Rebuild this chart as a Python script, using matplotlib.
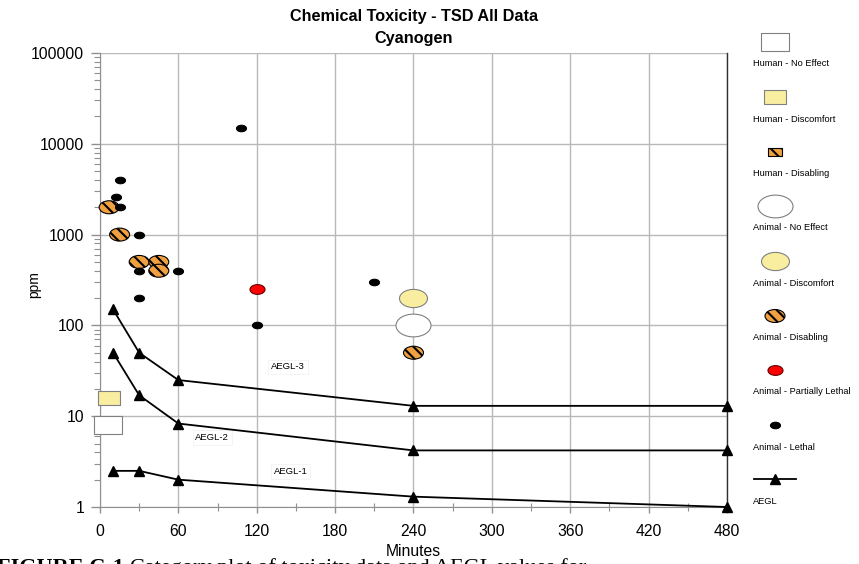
import matplotlib
matplotlib.use('Agg')
import matplotlib.pyplot as plt
from matplotlib.path import Path
from matplotlib.markers import MarkerStyle
from matplotlib.transforms import Affine2D
from matplotlib.ticker import NullFormatter, LogLocator

plt.rcParams['font.family'] = ['Liberation Sans', 'DejaVu Sans']
plt.rcParams['hatch.linewidth'] = 1.5

# ---- data (minutes, ppm) ----
aegl_t = [10, 30, 60, 240, 480]
aegl1 = [2.5, 2.5, 2.0, 1.3, 1.0]
aegl2 = [50, 17, 8.3, 4.2, 4.2]
aegl3 = [150, 50, 25, 13, 13]

hum_noeff_t, hum_noeff_c = [6], [8]
hum_disc_t, hum_disc_c = [7], [16]
ani_noeff_t, ani_noeff_c = [240], [100]
ani_disc_t, ani_disc_c = [240], [200]
ani_dis_t = [7, 15, 30, 45, 45, 240]
ani_dis_c = [2000, 1000, 500, 500, 400, 50]
ani_plet_t, ani_plet_c = [120], [250]
ani_leth_t = [108, 15, 12, 15, 30, 30, 60, 30, 210, 120]
ani_leth_c = [15000, 4000, 2600, 2000, 1000, 400, 400, 200, 300, 100]

x_ticks = [0, 60, 120, 180, 240, 300, 360, 420, 480]
y_ticks = [1, 10, 100, 1000, 10000, 100000]
y_labels = ['1', '10', '100', '1000', '10000', '100000']

legend_labels = ['Human - No Effect', 'Human - Discomfort', 'Human - Disabling',
                 'Animal - No Effect', 'Animal - Discomfort', 'Animal - Disabling',
                 'Animal - Partially Lethal', 'Animal - Lethal', 'AEGL']

# ---- marker shapes ----
ell = MarkerStyle(Path.unit_circle().transformed(Affine2D().scale(1, 0.65)))
def rect(ratio):
    return MarkerStyle(Path.unit_rectangle().transformed(
        Affine2D().translate(-0.5, -0.5).scale(1, ratio)))

ORANGE = '#f0a040'
YELLOW = '#f9eea0'
GREY = '#808080'
STRIPES = '\\\\\\'

# style per legend entry: (marker, size, face, edge, hatch)
styles = [
    (rect(0.667), 378, 'white', GREY, None),
    (rect(0.6), 260, YELLOW, GREY, None),
    (rect(0.6), 100, ORANGE, 'k', STRIPES),
    (ell, 635, 'white', GREY, None),
    (ell, 406, YELLOW, GREY, None),
    (ell, 207, ORANGE, 'k', STRIPES),
    (ell, 117, 'red', '#600000', None),
    (ell, 52, 'black', 'black', None),
]

fig = plt.figure(figsize=(8.59, 5.64), dpi=100)
ax = fig.add_axes([100/859, 1-507/564, 627/859, 454/564])
ax.set_yscale('log')
ax.set_xlim(0, 480)
ax.set_ylim(1, 100000)

ax.set_xticks(x_ticks)
ax.set_xticks(range(30, 480, 60), minor=True)
ax.set_yticks(y_ticks)
ax.set_yticklabels(y_labels)
ax.yaxis.set_minor_locator(LogLocator(base=10, subs=range(2, 10)))
ax.yaxis.set_minor_formatter(NullFormatter())
ax.grid(True, which='major', color='#b8b8b8', lw=1.0)
ax.tick_params(axis='both', which='major', labelsize=11.3, color='#909090')
ax.tick_params(axis='y', which='major', length=6.5, width=1, pad=5)
ax.tick_params(axis='y', which='minor', length=4, width=0.8, color='#909090')
ax.tick_params(axis='x', which='major', length=4.5, width=1, pad=8)
ax.tick_params(axis='x', which='minor', direction='inout', length=6, width=0.8, color='#909090')
ax.spines['top'].set_visible(False)
ax.spines['left'].set_color('#909090')
ax.spines['bottom'].set_color('#909090')
ax.spines['right'].set_color('#303030')
ax.spines['right'].set_linewidth(1.0)

ax.set_xlabel('Minutes', fontsize=11.3, labelpad=3)
ax.set_ylabel('ppm', fontsize=10)
ax.yaxis.set_label_coords(-0.094, 0.49)
fig.text(414/859, 1-17/564, 'Chemical Toxicity - TSD All Data', ha='center', va='center',
         fontsize=11.7, fontweight='bold')
fig.text(414/859, 1-39/564, 'Cyanogen', ha='center', va='center',
         fontsize=11.7, fontweight='bold')

# AEGL lines
for vals in [aegl1, aegl2, aegl3]:
    ax.plot(aegl_t, vals, color='k', lw=1.3, marker='^', ms=6.5, clip_on=False, zorder=4)
aegl_box = dict(facecolor='white', edgecolor='#f0f0f0', pad=2, lw=0.5)
ax.text(144, 35, 'AEGL-3', fontsize=6.8, ha='center', va='center', bbox=aegl_box, zorder=3)
ax.text(86, 5.8, 'AEGL-2', fontsize=6.8, ha='center', va='center', bbox=aegl_box, zorder=3)
ax.text(146, 2.45, 'AEGL-1', fontsize=6.8, ha='center', va='center', bbox=aegl_box, zorder=3)

series = [(hum_noeff_t, hum_noeff_c), (hum_disc_t, hum_disc_c), ([], []),
          (ani_noeff_t, ani_noeff_c), (ani_disc_t, ani_disc_c), (ani_dis_t, ani_dis_c),
          (ani_plet_t, ani_plet_c), (ani_leth_t, ani_leth_c)]
for (t, c), (m, sz, fc, ec, h) in zip(series, styles):
    if not t:
        continue
    ax.scatter(t, c, marker=m, s=sz, facecolor=fc, edgecolor=ec, hatch=h,
               linewidths=0.8, clip_on=False, zorder=5)

# ---- legend column (pixel coords) ----
lg = fig.add_axes([0, 0, 1, 1])
lg.set_xlim(0, 859)
lg.set_ylim(564, 0)
lg.axis('off')
icon_y = [42, 97, 152, 206, 261, 316, 370, 425, 479]
for i, lab in enumerate(legend_labels):
    y = icon_y[i]
    if i < 8:
        m, sz, fc, ec, h = styles[i]
        lg.scatter([775], [y], marker=m, s=sz, facecolor=fc, edgecolor=ec,
                   hatch=h, linewidths=0.8)
    else:
        lg.plot([754, 796], [y, y], color='k', lw=1.3)
        lg.plot([775], [y], color='k', marker='^', ms=6.5)
    lg.text(753, y + 22, lab, fontsize=6.7, ha='left', va='center')

# caption, cut off at the bottom edge like the source page
cap_y = 1 - 558/564
t1 = fig.text(-0.004, cap_y, 'FIGURE C-1', fontsize=16, fontweight='bold',
              family='Liberation Serif', va='top', ha='left')
fig.canvas.draw()
bb = t1.get_window_extent()
fig.text(bb.x1/859 + 0.008, cap_y, 'Category plot of toxicity data and AEGL values for',
         fontsize=16, family='Liberation Serif', va='top', ha='left')

fig.savefig('out.png', dpi=100)
